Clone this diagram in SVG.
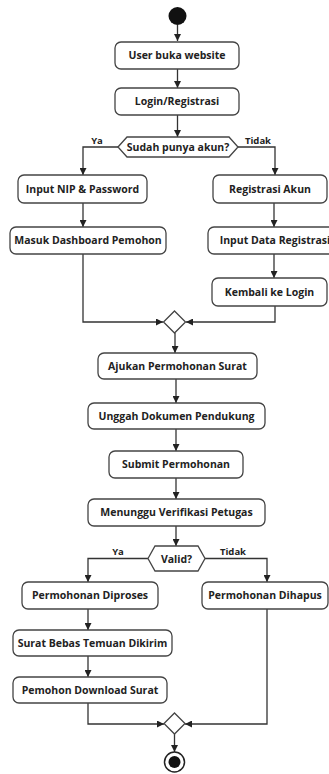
<svg xmlns="http://www.w3.org/2000/svg" width="329" height="774" viewBox="0 0 329 774">
<defs>
<marker id="arr" viewBox="0 0 10 10" refX="10" refY="5" markerWidth="7" markerHeight="7" markerUnits="userSpaceOnUse" orient="auto">
<path d="M0,0 L10,5 L0,10 z" fill="#222"/>
</marker>
<style>
.box{fill:#fff;stroke:#444;stroke-width:1.3}
.dec{fill:#fff;stroke:#444;stroke-width:1.3}
.t{font-family:"Open Sans","Liberation Sans",sans-serif;font-weight:700;font-size:10.5px;fill:#222;text-anchor:middle}
.g{font-family:"Open Sans","Liberation Sans",sans-serif;font-weight:700;font-size:9.5px;fill:#222;text-anchor:middle}
.c{fill:none;stroke:#333;stroke-width:1.3;marker-end:url(#arr)}
</style>
</defs>
<rect width="329" height="774" fill="#fff"/>
<g id="connectors">
<path class="c" d="M177.5,25 V41"/>
<path class="c" d="M177.5,69 V88"/>
<path class="c" d="M177.5,115 V137"/>
<path class="c" d="M118,147 H83 V175"/>
<path class="c" d="M238,147 H275 V175"/>
<path class="c" d="M83,203 V227"/>
<path class="c" d="M274,203 V227"/>
<path class="c" d="M274,254 V278"/>
<path class="c" d="M83,254 V322 H163"/>
<path class="c" d="M275,306 V322 H186"/>
<path class="c" d="M175,333 V353"/>
<path class="c" d="M176,379 V403"/>
<path class="c" d="M176,429 V451"/>
<path class="c" d="M176,478 V499"/>
<path class="c" d="M176,526 V546"/>
<path class="c" d="M148,558.5 H88 V582"/>
<path class="c" d="M205,558.5 H267 V582"/>
<path class="c" d="M88,609 V630"/>
<path class="c" d="M88,656 V677"/>
<path class="c" d="M88,703 V724 H164"/>
<path class="c" d="M267,609 V724 H185"/>
<path class="c" d="M174.5,734 V752"/>
<text class="g" x="97" y="144">Ya</text>
<text class="g" x="258" y="144">Tidak</text>
<text class="g" x="118" y="555">Ya</text>
<text class="g" x="233" y="555">Tidak</text>
</g>
<g id="start"><circle cx="177.5" cy="16" r="9" fill="#111"/></g>
<g id="n1"><rect class="box" x="115" y="42" width="124" height="27" rx="6"/><text class="t" x="177" y="59">User buka website</text></g>
<g id="n2"><rect class="box" x="115" y="88" width="124" height="27" rx="6"/><text class="t" x="177" y="105">Login/Registrasi</text></g>
<g id="d1"><polygon class="dec" points="118,147 127,137 229,137 238,147 229,157 127,157"/><text class="t" x="178" y="151">Sudah punya akun?</text></g>
<g id="n3"><rect class="box" x="18" y="175" width="129" height="28" rx="6"/><text class="t" x="82.5" y="193">Input NIP &amp; Password</text></g>
<g id="n4"><rect class="box" x="213" y="175" width="114" height="28" rx="6"/><text class="t" x="270" y="193">Registrasi Akun</text></g>
<g id="n5"><rect class="box" x="10" y="227" width="156" height="27" rx="6"/><text class="t" x="88" y="244">Masuk Dashboard Pemohon</text></g>
<g id="n6"><rect class="box" x="208" y="227" width="132" height="27" rx="6"/><text class="t" x="275" y="244">Input Data Registrasi</text></g>
<g id="n7"><rect class="box" x="212" y="278" width="115" height="28" rx="6"/><text class="t" x="269.5" y="296">Kembali ke Login</text></g>
<g id="m1"><polygon class="dec" points="174.5,311 185.5,322 174.5,333 163.5,322"/></g>
<g id="n8"><rect class="box" x="98" y="353" width="159" height="26" rx="6"/><text class="t" x="177.5" y="370">Ajukan Permohonan Surat</text></g>
<g id="n9"><rect class="box" x="88" y="403" width="177" height="26" rx="6"/><text class="t" x="176.5" y="420">Unggah Dokumen Pendukung</text></g>
<g id="n10"><rect class="box" x="109" y="451" width="134" height="27" rx="6"/><text class="t" x="176" y="468">Submit Permohonan</text></g>
<g id="n11"><rect class="box" x="88" y="499" width="177" height="27" rx="6"/><text class="t" x="176.5" y="516">Menunggu Verifikasi Petugas</text></g>
<g id="d2"><polygon class="dec" points="148,558.5 155,546 198,546 205,558.5 198,571 155,571"/><text class="t" x="176.5" y="562.5">Valid?</text></g>
<g id="n12"><rect class="box" x="22" y="582" width="136" height="27" rx="6"/><text class="t" x="90" y="599">Permohonan Diproses</text></g>
<g id="n13"><rect class="box" x="202" y="582" width="126" height="27" rx="6"/><text class="t" x="265" y="599">Permohonan Dihapus</text></g>
<g id="n14"><rect class="box" x="13" y="630" width="159" height="26" rx="6"/><text class="t" x="92.5" y="647">Surat Bebas Temuan Dikirim</text></g>
<g id="n15"><rect class="box" x="13" y="677" width="154" height="26" rx="6"/><text class="t" x="90" y="694">Pemohon Download Surat</text></g>
<g id="m2"><polygon class="dec" points="174.5,713 185,723.5 174.5,734 164,723.5"/></g>
<g id="end"><circle cx="174.5" cy="762" r="10" fill="#fff" stroke="#222" stroke-width="1.5"/><circle cx="174.5" cy="762" r="6" fill="#111"/></g>
</svg>
